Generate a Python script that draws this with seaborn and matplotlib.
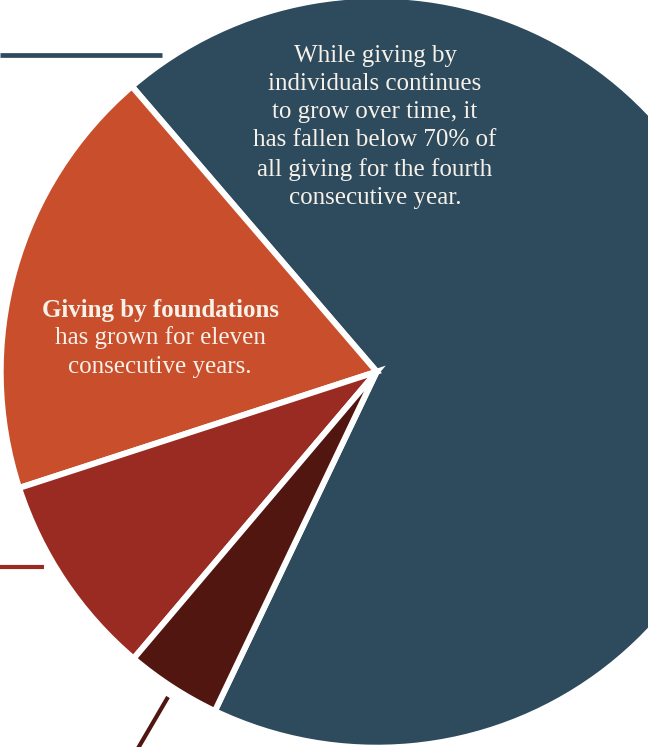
import matplotlib
matplotlib.use("Agg")
import matplotlib.pyplot as plt
import seaborn as sns

# ---- data (shares of total giving, %) ----
categories = ["Individuals", "Foundations", "Bequests", "Corporations"]
shares = [68.3, 18.7, 8.8, 4.1]
colors = ["#2e4a5d", "#c94f2c", "#9a2b22", "#521610"]

note_individuals = ("While giving by\nindividuals continues\nto grow over time, it\n"
                    "has fallen below 70% of\nall giving for the fourth\nconsecutive year.")
note_found_bold = "Giving by foundations"
note_found_rest = "has grown for eleven\nconsecutive years."

sns.set_theme(style="white")
plt.rcParams['font.family'] = ['Liberation Serif', 'DejaVu Serif']

W, H = 648, 747
fig = plt.figure(figsize=(W / 100, H / 100), dpi=100)
ax = fig.add_axes([0, 0, 1, 1])

def Y(y_img):
    return H - y_img

cx, cy = 376.7, Y(371.7)
ax.pie(shares, colors=colors, startangle=244.5, counterclock=True,
       center=(cx, cy), radius=376,
       wedgeprops=dict(edgecolor="white", linewidth=4.3, joinstyle="miter"))

ax.set_xlim(0, W)
ax.set_ylim(0, H)
ax.set_aspect("auto")
ax.axis("off")

# leader lines from callouts outside the crop
ax.plot([0, 162], [Y(55), Y(55)], color=colors[0], lw=3.4, solid_capstyle="butt")
ax.plot([0, 44], [Y(567), Y(567)], color=colors[2], lw=3.0, solid_capstyle="butt")
ax.plot([137, 168], [Y(750), Y(697)], color=colors[3], lw=3.0, solid_capstyle="butt")

txtc = "#f6f1e9"
fs = 18
ax.text(375, Y(127), note_individuals, ha="center", va="center", color=txtc,
        fontsize=fs, linespacing=1.36)
ax.text(160, Y(310), note_found_bold, ha="center", va="center", color=txtc,
        fontsize=fs, fontweight="bold")
ax.text(160, Y(352), note_found_rest, ha="center", va="center", color=txtc,
        fontsize=fs, linespacing=1.36)

fig.savefig("out.png", dpi=100)
